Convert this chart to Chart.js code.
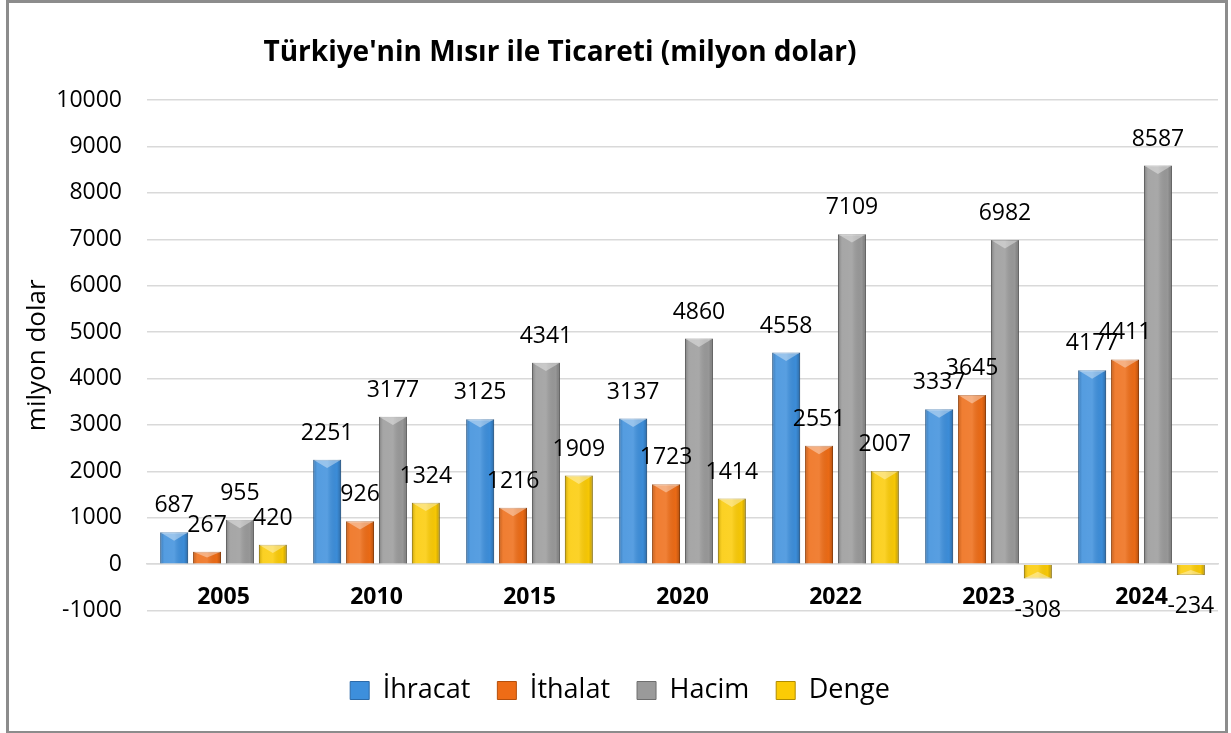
<!DOCTYPE html>
<html>
<head>
<meta charset="utf-8">
<script src="https://cdn.jsdelivr.net/npm/chart.js@4/dist/chart.umd.min.js"></script>
<style>
body { margin: 0; background: #fff; }
#wrap { position: relative; width: 1231px; height: 733px; }
#frame { position: absolute; left: 6px; top: 0; width: 1216px; height: 728px; border: 3px solid #8c8c8c; pointer-events: none; }
#title { position: absolute; top: 31px; left: 0; width: 1120px; text-align: center; font: bold 28px "Open Sans"; color: #000; }
</style>
</head>
<body>
<div id="wrap">
  <canvas id="tradeChart" width="1231" height="733"></canvas>
  <div id="title">Türkiye'nin Mısır ile Ticareti (milyon dolar)</div>
  <div id="frame"></div>
</div>
<script>
const years = ["2005", "2010", "2015", "2020", "2022", "2023", "2024"];
const ihracat = [687, 2251, 3125, 3137, 4558, 3337, 4177];
const ithalat = [267, 926, 1216, 1723, 2551, 3645, 4411];
const hacim = [955, 3177, 4341, 4860, 7109, 6982, 8587];
const denge = [420, 1324, 1909, 1414, 2007, -308, -234];

// bevelled look, drawn over each bar from its own element geometry
const bevelPlugin = {
    id: "bevel",
    afterDatasetsDraw(chart) {
        const ctx = chart.ctx;
        chart.data.datasets.forEach((ds, i) => {
            const meta = chart.getDatasetMeta(i);
            meta.data.forEach(bar => {
                const w = bar.width;
                const left = bar.x - w / 2;
                const top = Math.min(bar.y, bar.base);
                const bottom = Math.max(bar.y, bar.base);
                const h = bottom - top;
                ctx.save();
                const g = ctx.createLinearGradient(left, 0, left + w, 0);
                g.addColorStop(0, "rgba(0,0,0,0.20)");
                g.addColorStop(0.15, "rgba(255,255,255,0.12)");
                g.addColorStop(0.5, "rgba(255,255,255,0.14)");
                g.addColorStop(0.85, "rgba(0,0,0,0.02)");
                g.addColorStop(1, "rgba(0,0,0,0.25)");
                ctx.fillStyle = g;
                ctx.fillRect(left, top, w, h);
                const up = bar.y <= bar.base;
                const tipY = up ? top : bottom;
                const b = Math.min(w * 0.3, h / 2);
                const d = up ? 1 : -1;
                ctx.beginPath();
                ctx.moveTo(left, tipY);
                ctx.lineTo(left + w, tipY);
                ctx.lineTo(bar.x, tipY + d * b);
                ctx.closePath();
                ctx.fillStyle = "rgba(255,255,255,0.38)";
                ctx.fill();
                ctx.restore();
            });
        });
    }
};

const valueLabels = {
    id: "valueLabels",
    afterDatasetsDraw(chart) {
        const ctx = chart.ctx;
        ctx.save();
        ctx.font = "23px 'Open Sans'";
        ctx.fillStyle = "#000";
        ctx.textAlign = "center";
        chart.data.datasets.forEach((ds, i) => {
            const meta = chart.getDatasetMeta(i);
            meta.data.forEach((bar, j) => {
                const v = ds.data[j];
                if (v >= 0) {
                    ctx.textBaseline = "bottom";
                    ctx.fillText(v, bar.x, bar.y - 15);
                } else {
                    ctx.textBaseline = "top";
                    ctx.fillText(v, bar.x, bar.y + 20);
                }
            });
        });
        ctx.restore();
    }
};

const ctx = document.getElementById("tradeChart").getContext("2d");

const chart = new Chart(ctx, {
    type: "bar",
    data: {
        labels: years,
        datasets: [
            { label: "İhracat", data: ihracat, backgroundColor: "#3d8fdc", borderColor: "#2c6aa8", borderWidth: 1 },
            { label: "İthalat", data: ithalat, backgroundColor: "#ee6c16", borderColor: "#b54f0c", borderWidth: 1 },
            { label: "Hacim", data: hacim, backgroundColor: "#9a9a9a", borderColor: "#6e6e6e", borderWidth: 1 },
            { label: "Denge", data: denge, backgroundColor: "#fbcb05", borderColor: "#b08c00", borderWidth: 1 }
        ]
    },
    options: {
        responsive: false,
        animation: false,
        categoryPercentage: 0.86,
        barPercentage: 0.85,
        layout: {
            padding: { top: 100, left: 22, right: 13, bottom: 19 }
        },
        scales: {
            x: {
                position: { y: 0 },
                grid: { display: false, drawTicks: false },
                border: { color: "#d9d9d9", width: 1.5 },
                ticks: {
                    color: "#000",
                    padding: 19,
                    font: { family: "Open Sans", size: 23, weight: "bold" }
                }
            },
            y: {
                min: -1000,
                max: 10000,
                afterFit: scale => { scale.width = 125; },
                ticks: {
                    stepSize: 1000,
                    color: "#000",
                    padding: 25,
                    font: { family: "Open Sans", size: 23 },
                    callback: v => String(v)
                },
                grid: { color: "#d9d9d9", lineWidth: 1.5, drawTicks: false },
                border: { display: false },
                title: {
                    display: true,
                    text: "milyon dolar",
                    color: "#000",
                    font: { family: "Open Sans", size: 26 },
                    padding: { top: 0, bottom: 0 }
                }
            }
        },
        plugins: {
            tooltip: { enabled: false },
            legend: {
                position: "bottom",
                title: {
                    display: true,
                    text: " ",
                    font: { size: 12 },
                    padding: { top: 25, bottom: 0 }
                },
                labels: {
                    color: "#000",
                    boxWidth: 19,
                    boxHeight: 18,
                    padding: 27,
                    font: { family: "Open Sans", size: 27 }
                }
            }
        }
    },
    plugins: [bevelPlugin, valueLabels]
});
</script>
</body>
</html>
